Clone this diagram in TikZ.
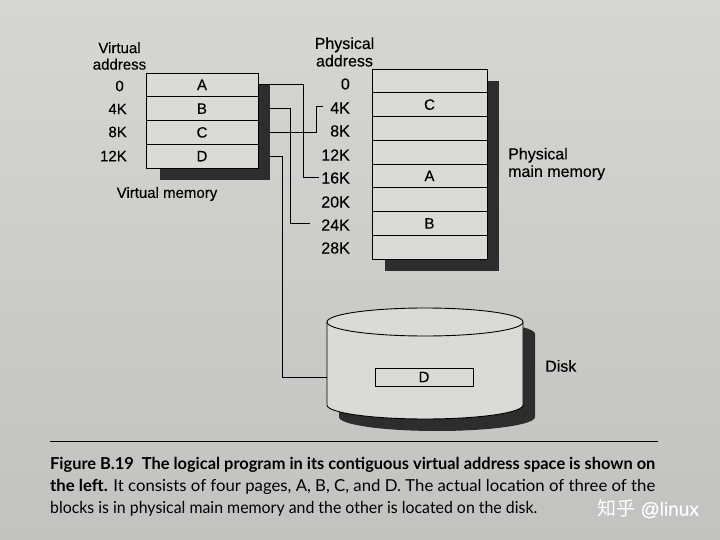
\documentclass[tikz,border=0pt]{standalone}
\usepackage{fontspec}
\setmainfont{Liberation Sans}[FakeBold=0.25]
\newfontfamily\capfont{Lato}
\newfontfamily\cjk{Noto Sans CJK SC}
\usetikzlibrary{calc}
\definecolor{pagetop}{RGB}{214,214,211}
\definecolor{pagebot}{RGB}{194,194,192}
\definecolor{boxfill}{RGB}{218,218,215}
\definecolor{shade}{RGB}{45,45,45}
\tikzset{
  cell/.style={draw, fill=boxfill, line width=0.9pt, inner sep=0pt, outer sep=0pt, minimum height=23.75pt, font=\fontsize{15}{15}\selectfont},
  vcell/.style={cell, minimum width=112pt},
  pcell/.style={cell, minimum width=115pt},
  lab/.style={inner sep=0pt, font=\fontsize{15}{17.5}\selectfont},
  rlab/.style={inner sep=0pt, font=\fontsize{16}{18.5}\selectfont},
  conn/.style={line width=0.9pt},
  shadowfill/.style={fill=shade, draw=none}
}
\begin{document}
\begin{tikzpicture}[x=1pt,y=-1pt]
\useasboundingbox (0,0) rectangle (720,540);
\shade[top color=pagetop, bottom color=pagebot] (0,0) rectangle (720,540);

% ---- Virtual memory ----
\node[lab, align=center] (vtitle) at (119.5,56) {Virtual\\[-1pt]address};
\node[lab, anchor=east] (va0) at (124,86) {0};
\node[lab, anchor=east] (va4) at (127,109) {4K};
\node[lab, anchor=east] (va8) at (127,132) {8K};
\node[lab, anchor=east] (va12) at (127,156) {12K};
\node[lab] (vmem) at (167,194) {Virtual memory};

% named end points of the connectors
\coordinate (aEnd) at (319,177);
\coordinate (bEnd) at (310,223);
\coordinate (cEnd) at (323,106);
\coordinate (diskIn) at (327,377);

% cells (positioned first so connectors can use their names)
\node[vcell] (vA) at (202,84.9) {A};
\node[vcell] (vB) at (202,108.6) {B};
\node[vcell] (vC) at (202,132.4) {C};
\node[vcell] (vD) at (202,156.1) {D};

% connectors (behind the shadow)
\draw[conn] (vA.east) -- ++(45,0) |- (aEnd);
\draw[conn] (vB.east) -- ++(32,0) |- (bEnd);
\draw[conn] (vC.east) -- ++(58,0) |- (cEnd);
\draw[conn] (vD.east) -- ++(24,0) |- (diskIn);

% shadow and cells on top
\fill[shadowfill] (160,85) rectangle (270,180);
\node[vcell] at (vA) {A};
\node[vcell] at (vB) {B};
\node[vcell] at (vC) {C};
\node[vcell] at (vD) {D};

% ---- Physical memory ----
\node[rlab, align=center] (ptitle) at (344.5,52) {Physical\\[-1pt]address};
\node[rlab, anchor=east] (pa0) at (350,84) {0};
\node[rlab, anchor=east] (pa4) at (350,108) {4K};
\node[rlab, anchor=east] (pa8) at (350,131) {8K};
\node[rlab, anchor=east] (pa12) at (350,155) {12K};
\node[rlab, anchor=east] (pa16) at (350,178) {16K};
\node[rlab, anchor=east] (pa20) at (350,202) {20K};
\node[rlab, anchor=east] (pa24) at (350,225) {24K};
\node[rlab, anchor=east] (pa28) at (350,248) {28K};

\fill[shadowfill] (385,81) rectangle (499,271);
\node[pcell] (p0) at (429.5,80.9) {};
\node[pcell] (p1) at (429.5,104.6) {C};
\node[pcell] (p2) at (429.5,128.4) {};
\node[pcell] (p3) at (429.5,152.1) {};
\node[pcell] (p4) at (429.5,175.9) {A};
\node[pcell] (p5) at (429.5,199.6) {};
\node[pcell] (p6) at (429.5,223.4) {B};
\node[pcell] (p7) at (429.5,247.1) {};
\node[rlab, anchor=west, align=left] (pmm) at (508,164) {Physical\\[-1pt]main memory};

% ---- Disk ----
\fill[shadowfill] (339,334) -- (339,417)
  arc[start angle=180, end angle=0, x radius=98, y radius=14]
  -- (535,334)
  arc[start angle=0, end angle=-180, x radius=98, y radius=14] -- cycle;
\draw[line width=0.9pt, fill=boxfill] (327,322) -- (327,405)
  arc[start angle=180, end angle=0, x radius=98, y radius=14]
  -- (523,322)
  arc[start angle=0, end angle=-180, x radius=98, y radius=14] -- cycle;
\draw[line width=0.9pt] (327,322) arc[start angle=180, end angle=0, x radius=98, y radius=14];
\node[cell, minimum width=98pt, minimum height=18pt] (dD) at (424,377) {D};
\node[rlab, anchor=west] (disk) at (545,366) {Disk};

% ---- caption ----
\draw[line width=1pt] (50,441) -- (658,441);
\node[anchor=west, inner sep=0pt] (cap1) at (50,465) {\capfont\fontsize{16.5}{18}\selectfont\resizebox{605pt}{\height}{\bfseries Figure B.19\ \ The logical program in its contiguous virtual address space is shown on}};
\node[anchor=west, inner sep=0pt] (cap2) at (50,487) {\capfont\fontsize{16.5}{18}\selectfont\resizebox{605pt}{\height}{\textbf{the left.} It consists of four pages, A, B, C, and D. The actual location of three of the}};
\node[anchor=west, inner sep=0pt] (cap3) at (50,509) {\capfont\fontsize{16.5}{18}\selectfont\resizebox{487pt}{\height}{blocks is in physical main memory and the other is located on the disk.}};
\node[anchor=west, inner sep=0pt, text=white] (wm) at (597,509) {\fontsize{19}{20}\selectfont{\cjk 知乎} @linux};
\end{tikzpicture}
\end{document}
